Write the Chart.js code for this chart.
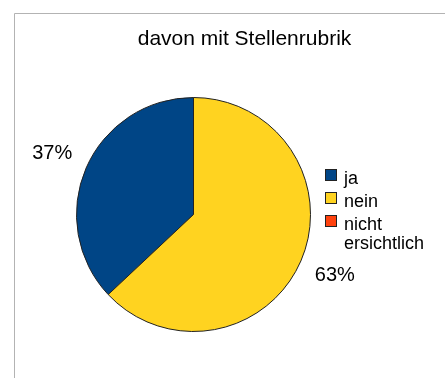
<!DOCTYPE html>
<html>
<head>
<meta charset="utf-8">
<script src="https://cdn.jsdelivr.net/npm/chart.js@4/dist/chart.umd.min.js"></script>
<style>
  html, body { margin: 0; padding: 0; background: #fff; }
  canvas { display: block; }
</style>
</head>
<body>
<canvas id="grafico" width="445" height="378"></canvas>
<script>
// dados do gráfico
var titulo = "davon mit Stellenrubrik";
var categorias = ["ja", "nein", "nicht\nersichtlich"];
var valores = [37, 63, 0];
var cores = ["#004586", "#ffd320", "#ff420e"];

var total = valores.reduce(function(a, b) { return a + b; }, 0);

// moldura, título, rótulos e legenda desenhados à mão
var extras = {
    id: 'extras',
    beforeDraw: function(chart) {
        var ctx = chart.ctx;
        ctx.save();
        ctx.fillStyle = '#fff';
        ctx.fillRect(0, 0, chart.width, chart.height);
        ctx.strokeStyle = '#b3b3b3';
        ctx.lineWidth = 1;
        ctx.beginPath();
        ctx.moveTo(14.5, chart.height);
        ctx.lineTo(14.5, 13.5);
        ctx.lineTo(chart.width, 13.5);
        ctx.stroke();
        ctx.restore();
    },
    afterDraw: function(chart) {
        var ctx = chart.ctx;
        ctx.save();
        ctx.fillStyle = '#000';

        // título
        ctx.font = '21px "Liberation Sans", Arial, sans-serif';
        ctx.textAlign = 'center';
        ctx.textBaseline = 'alphabetic';
        ctx.fillText(titulo, 244.5, 45);

        // percentagens fora das fatias
        var meta = chart.getDatasetMeta(0);
        ctx.font = '20px "Liberation Sans", Arial, sans-serif';
        ctx.textBaseline = 'middle';
        meta.data.forEach(function(arc, i) {
            if (!valores[i]) return;
            var meio = (arc.startAngle + arc.endAngle) / 2;
            var d = arc.outerRadius + 37;
            var x = arc.x + Math.cos(meio) * d;
            var y = arc.y + Math.sin(meio) * d;
            ctx.fillText(Math.round(valores[i] / total * 100) + '%', x, y);
        });

        // legenda
        ctx.font = '18px "Liberation Sans", Arial, sans-serif';
        ctx.textAlign = 'left';
        ctx.textBaseline = 'alphabetic';
        var y = 170;
        categorias.forEach(function(cat, i) {
            ctx.fillStyle = cores[i];
            ctx.fillRect(326, y, 10, 10);
            ctx.strokeStyle = '#222';
            ctx.lineWidth = 1;
            ctx.strokeRect(325.5, y - 0.5, 11, 11);
            ctx.fillStyle = '#000';
            var linhas = cat.split('\n');
            linhas.forEach(function(l, k) {
                ctx.fillText(l, 344, y + 14 + k * 19);
            });
            y += 23;
        });
        ctx.restore();
    }
};

var ctx = document.getElementById("grafico").getContext("2d");
var chart = new Chart(ctx, {
    type: 'pie',
    data: {
        labels: categorias,
        datasets: [{
            data: valores,
            backgroundColor: cores,
            borderColor: '#222',
            borderWidth: 1
        }]
    },
    options: {
        responsive: false,
        animation: false,
        rotation: -360 * valores[0] / total,
        layout: {
            padding: { left: 76, right: 134, top: 96, bottom: 45 }
        },
        plugins: {
            legend: { display: false },
            tooltip: { enabled: false },
            title: { display: false }
        }
    },
    plugins: [extras]
});
</script>
</body>
</html>
